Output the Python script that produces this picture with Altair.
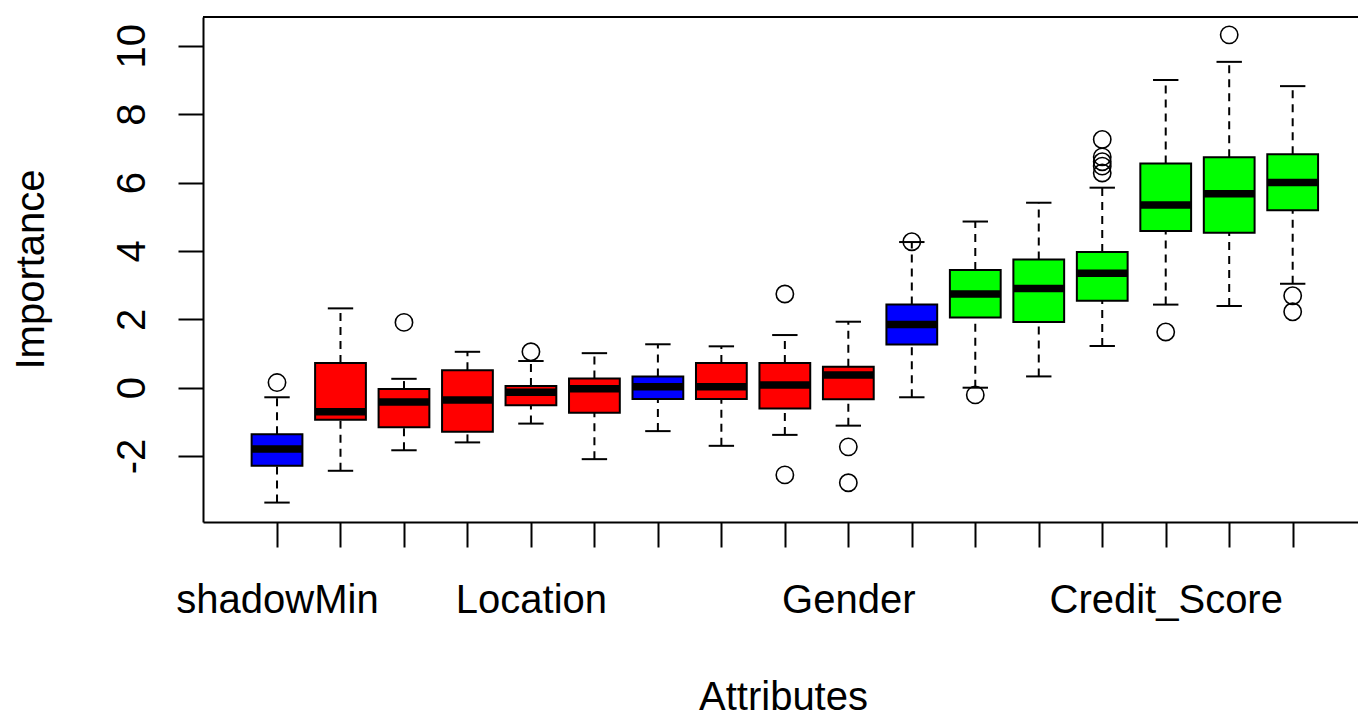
import altair as alt
import pandas as pd

# ---- data ----
attributes = ["shadowMin", "Customer_ID", "Marital_Status", "Education", "Location",
              "Dependents", "shadowMean", "Occupation", "Property_Area", "Gender",
              "shadowMax", "Age", "Loan_Term", "Employment_Years", "Credit_Score",
              "Income", "Loan_Amount"]
decision = ["Shadow", "Rejected", "Rejected", "Rejected", "Rejected",
            "Rejected", "Shadow", "Rejected", "Rejected", "Rejected",
            "Shadow", "Confirmed", "Confirmed", "Confirmed", "Confirmed",
            "Confirmed", "Confirmed"]
lower_whisker = [-3.36, -2.43, -1.83, -1.60, -1.05, -2.09, -1.27, -1.70, -1.38, -1.11,
                 -0.28, 0.00, 0.33, 1.22, 2.43, 2.39, 3.04]
q1 = [-2.28, -0.94, -1.16, -1.29, -0.51, -0.73, -0.33, -0.33, -0.61, -0.34,
      1.26, 2.05, 1.92, 2.54, 4.58, 4.53, 5.19]
median = [-1.79, -0.70, -0.42, -0.36, -0.13, -0.03, 0.03, 0.03, 0.08, 0.37,
          1.85, 2.74, 2.90, 3.35, 5.34, 5.67, 6.00]
q3 = [-1.36, 0.72, -0.04, 0.51, 0.05, 0.27, 0.33, 0.72, 0.72, 0.61,
      2.43, 3.44, 3.75, 3.97, 6.56, 6.74, 6.83]
upper_whisker = [-0.28, 2.32, 0.26, 1.05, 0.78, 1.01, 1.27, 1.21, 1.54, 1.93,
                 4.26, 4.86, 5.41, 5.85, 9.00, 9.53, 8.82]
outlier_attr = [1, 3, 5, 9, 9, 10, 10, 11, 12, 14, 14, 14, 14, 14, 15, 16, 17, 17]
outlier_value = [0.15, 1.91, 1.05, 2.74, -2.55, -1.73, -2.78, 4.27, -0.21,
                 7.26, 6.75, 6.61, 6.48, 6.28, 1.63, 10.32, 2.69, 2.22]
y_ticks = [-2, 0, 2, 4, 6, 8, 10]
shown_labels = [1, 5, 10, 15]

status_domain = ["Shadow", "Rejected", "Confirmed"]
status_colors = ["#0000FF", "#FF0000", "#00FF00"]

# ---- tables ----
boxes = pd.DataFrame({
    "idx": list(range(1, len(attributes) + 1)),
    "attribute": attributes,
    "decision": decision,
    "lower": lower_whisker,
    "q1": q1,
    "median": median,
    "q3": q3,
    "upper": upper_whisker,
})
outliers = pd.DataFrame({"idx": outlier_attr, "value": outlier_value})

W, H = 1155, 505
FONT = "Liberation Sans"

label_expr = " : ".join(
    f"datum.value == {i} ? '{attributes[i - 1]}'" for i in shown_labels
) + " : ''"

x_scale = alt.Scale(domain=[-0.166, 18.029], nice=False, zero=False)
y_scale = alt.Scale(domain=[-3.928, 10.842], nice=False, zero=False)

x_axis = alt.Axis(
    values=list(range(1, len(attributes) + 1)), labelExpr=label_expr,
    grid=False, tickSize=25, tickWidth=2, tickColor="black",
    domainColor="black", domainWidth=2,
    labelFont=FONT, labelFontSize=40, labelColor="black", labelAngle=0,
    labelAlign="center", labelBaseline="alphabetic", labelPadding=65,
    labelOverlap=False, labelFlush=False, labelLimit=0,
    title="Attributes", titleFont=FONT, titleFontSize=40, titleFontWeight="normal",
    titleColor="black", titleX=580, titleY=187, titleAlign="center",
    titleBaseline="alphabetic", titleLimit=0,
)
y_axis = alt.Axis(
    values=y_ticks, labelExpr="'' + datum.value",
    grid=False, tickSize=25, tickWidth=2, tickColor="black",
    domainColor="black", domainWidth=2,
    labelFont=FONT, labelFontSize=40, labelColor="black", labelAngle=270,
    labelAlign="center", labelBaseline="alphabetic", labelPadding=34,
    labelOverlap=False, labelFlush=False, labelLimit=0,
    title="Importance", titleFont=FONT, titleFontSize=40, titleFontWeight="normal",
    titleColor="black", titleAngle=270, titleX=-160, titleY=252,
    titleAlign="center", titleBaseline="alphabetic", titleLimit=0,
)


def X(field):
    return alt.X(f"{field}:Q", scale=x_scale, axis=x_axis)


def Y(field):
    return alt.Y(f"{field}:Q", scale=y_scale, axis=y_axis)


base = alt.Chart(boxes).transform_calculate(
    box0="datum.idx - 0.4", box1="datum.idx + 0.4",
    cap0="datum.idx - 0.2", cap1="datum.idx + 0.2",
)

whisk_up = base.mark_rule(color="black", strokeWidth=2, strokeDash=[8, 6]).encode(
    x=X("idx"), y=Y("q3"), y2="upper:Q")
whisk_lo = base.mark_rule(color="black", strokeWidth=2, strokeDash=[8, 6]).encode(
    x=X("idx"), y=Y("lower"), y2="q1:Q")
cap_up = base.mark_rule(color="black", strokeWidth=2).encode(
    x=X("cap0"), x2="cap1:Q", y=Y("upper"))
cap_lo = base.mark_rule(color="black", strokeWidth=2).encode(
    x=X("cap0"), x2="cap1:Q", y=Y("lower"))
box = base.mark_bar(stroke="black", strokeWidth=2, opacity=1).encode(
    x=X("box0"), x2="box1:Q", y=Y("q1"), y2="q3:Q",
    color=alt.Color("decision:N", scale=alt.Scale(domain=status_domain, range=status_colors),
                    legend=None),
)
med = base.mark_rule(color="black", strokeWidth=7.5).encode(
    x=X("box0"), x2="box1:Q", y=Y("median"))
outs = alt.Chart(outliers).mark_point(
    shape="circle", filled=False, size=300, color="black", strokeWidth=1.6, opacity=1
).encode(x=X("idx"), y=Y("value"))
top_border = alt.Chart(boxes).mark_rule(color="black", strokeWidth=2).encode(
    x=alt.value(0), x2=alt.value(W), y=alt.value(0))

chart = alt.layer(whisk_up, whisk_lo, cap_up, cap_lo, box, med, outs, top_border).properties(
    width=W, height=H,
    autosize=alt.AutoSizeParams(type="none"),
    padding={"left": 203, "top": 17, "right": 0, "bottom": 191},
    background="white",
).configure_view(stroke=None)

chart.save("out.html", embed_options={"renderer": "svg", "actions": False})
